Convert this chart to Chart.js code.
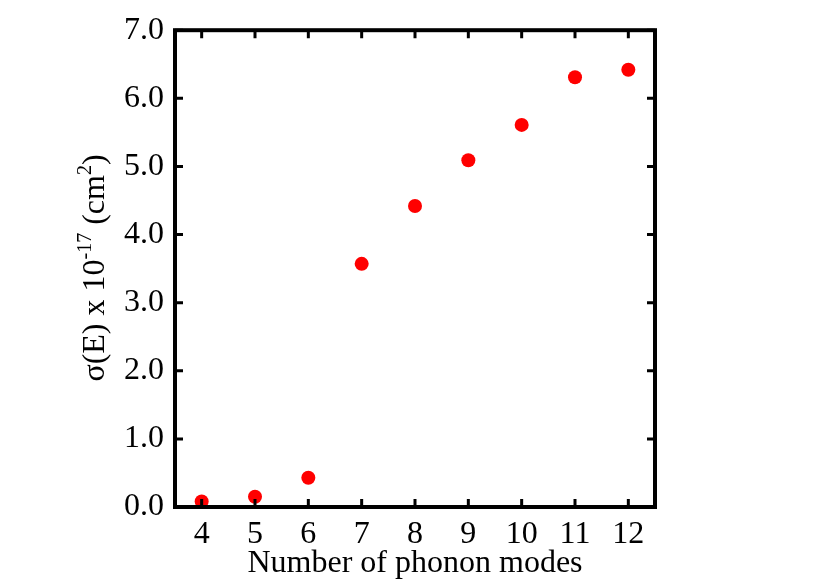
<!DOCTYPE html>
<html>
<head>
<meta charset="utf-8">
<script src="https://cdn.jsdelivr.net/npm/chart.js@4.4.0/dist/chart.umd.min.js"></script>
<style>
  html, body { margin: 0; padding: 0; background: #fff; }
  #wrap { width: 830px; height: 581px; }
</style>
</head>
<body>
<div id="wrap"><canvas id="sigmaChart"></canvas></div>
<script>
const modes = [4, 5, 6, 7, 8, 9, 10, 11, 12];
const sigma = [0.08, 0.15, 0.43, 3.57, 4.42, 5.09, 5.61, 6.31, 6.42];
const xTicks = [4, 5, 6, 7, 8, 9, 10, 11, 12];
const yTicks = [0, 1, 2, 3, 4, 5, 6, 7];

const serif = "'Liberation Serif', 'Times New Roman', serif";
const ctx = document.getElementById('sigmaChart');

// frame with inward ticks on all four sides + y title with superscripts
const framePlugin = {
    id: 'frame',
    afterDatasetsDraw(chart) {
        const c = chart.ctx;
        const a = chart.chartArea;
        const xs = chart.scales.x, ys = chart.scales.y;
        c.save();
        c.strokeStyle = '#000';
        c.lineWidth = 3;
        xTicks.forEach(function (v) {
            const px = xs.getPixelForValue(v);
            c.beginPath();
            c.moveTo(px, a.bottom); c.lineTo(px, a.bottom - 8);
            c.moveTo(px, a.top); c.lineTo(px, a.top + 8);
            c.stroke();
        });
        yTicks.forEach(function (v) {
            const py = ys.getPixelForValue(v);
            c.beginPath();
            c.moveTo(a.left, py); c.lineTo(a.left + 8, py);
            c.moveTo(a.right, py); c.lineTo(a.right - 8, py);
            c.stroke();
        });
        c.lineWidth = 4;
        c.strokeRect(a.left, a.top, a.right - a.left, a.bottom - a.top);
        c.restore();
    },
    afterDraw(chart) {
        const c = chart.ctx;
        const parts = [
            { t: 'σ(E) x 10', size: 32, rise: 0 },
            { t: '-17', size: 20, rise: 13 },
            { t: ' (cm', size: 32, rise: 0 },
            { t: '2', size: 20, rise: 13 },
            { t: ')', size: 32, rise: 0 }
        ];
        c.save();
        c.fillStyle = '#000';
        c.textBaseline = 'alphabetic';
        let total = 0;
        parts.forEach(function (p) {
            c.font = p.size + 'px ' + serif;
            p.w = c.measureText(p.t).width;
            total += p.w;
        });
        c.translate(104, 268);
        c.rotate(-Math.PI / 2);
        let x = -total / 2;
        parts.forEach(function (p) {
            c.font = p.size + 'px ' + serif;
            c.fillText(p.t, x, -p.rise);
            x += p.w;
        });
        c.restore();
    }
};

new Chart(ctx, {
    type: 'scatter',
    data: {
        datasets: [{
            label: 'sigma',
            data: modes.map(function (m, i) { return { x: m, y: sigma[i] }; }),
            backgroundColor: '#ff0000',
            borderWidth: 0,
            pointRadius: 7,
            pointHoverRadius: 7
        }]
    },
    options: {
        responsive: true,
        maintainAspectRatio: false,
        animation: false,
        layout: { padding: { top: 27, right: 175, left: 0, bottom: 0 } },
        plugins: { legend: { display: false }, tooltip: { enabled: false } },
        scales: {
            x: {
                type: 'linear',
                min: 3.5,
                max: 12.5,
                afterBuildTicks: function (s) { s.ticks = xTicks.map(function (v) { return { value: v }; }); },
                afterFit: function (s) { s.height = 74; },
                grid: { display: false, drawTicks: false },
                border: { display: false },
                ticks: { color: '#000', font: { family: serif, size: 32 }, padding: 8, maxRotation: 0 },
                title: {
                    display: true,
                    text: 'Number of phonon modes',
                    color: '#000',
                    font: { family: serif, size: 32, lineHeight: 1.1 },
                    padding: { top: 0, bottom: 0 }
                }
            },
            y: {
                min: 0,
                max: 7,
                afterBuildTicks: function (s) { s.ticks = yTicks.map(function (v) { return { value: v }; }); },
                afterFit: function (s) { s.width = 175; },
                grid: { display: false, drawTicks: false },
                border: { display: false },
                ticks: {
                    color: '#000',
                    font: { family: serif, size: 32 },
                    padding: 11,
                    callback: function (v) { return v.toFixed(1); }
                }
            }
        }
    },
    plugins: [framePlugin]
});
</script>
</body>
</html>
